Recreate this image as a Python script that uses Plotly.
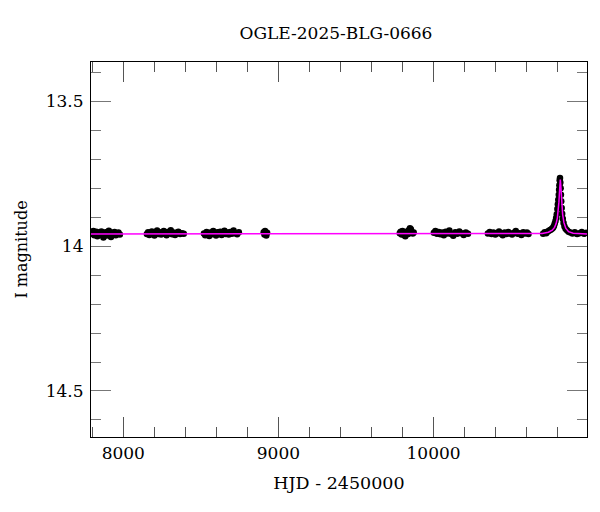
import plotly.graph_objects as go

# Season data (HJD - 2450000, I magnitude)
s1_t = [7795, 7801, 7807, 7813, 7820, 7826, 7833, 7839, 7846, 7852, 7859, 7866, 7872, 7879, 7886, 7893, 7900, 7907, 7914, 7921, 7928, 7936, 7944, 7952, 7960, 7969, 7978]
s1_m = [13.951, 13.957, 13.948, 13.962, 13.955, 13.950, 13.966, 13.958, 13.953, 13.961, 13.949, 13.956, 13.970, 13.959, 13.952, 13.963, 13.955, 13.947, 13.960, 13.968, 13.954, 13.958, 13.951, 13.962, 13.957, 13.953, 13.960]

s2_t = [8152, 8160, 8168, 8176, 8184, 8193, 8201, 8210, 8218, 8227, 8235, 8244, 8252, 8261, 8270, 8279, 8288, 8297, 8306, 8315, 8324, 8334, 8344, 8355, 8366, 8378, 8390]
s2_m = [13.958, 13.952, 13.961, 13.955, 13.949, 13.957, 13.963, 13.953, 13.946, 13.958, 13.952, 13.960, 13.955, 13.948, 13.957, 13.962, 13.951, 13.956, 13.945, 13.959, 13.953, 13.961, 13.954, 13.950, 13.958, 13.955, 13.957]

s3_t = [8520, 8528, 8537, 8545, 8554, 8562, 8571, 8580, 8589, 8598, 8607, 8616, 8625, 8634, 8643, 8652, 8661, 8670, 8680, 8690, 8700, 8711, 8722, 8734, 8745]
s3_m = [13.956, 13.962, 13.951, 13.958, 13.965, 13.953, 13.959, 13.948, 13.957, 13.963, 13.952, 13.958, 13.950, 13.961, 13.955, 13.947, 13.958, 13.953, 13.960, 13.951, 13.957, 13.946, 13.955, 13.959, 13.952]

s4_t = [8905, 8910, 8914, 8918, 8922, 8927]
s4_m = [13.952, 13.960, 13.948, 13.957, 13.963, 13.954]

s5_t = [9782, 9788, 9794, 9800, 9806, 9812, 9818, 9824, 9830, 9836, 9842, 9848, 9854, 9860, 9866, 9872]
s5_m = [13.955, 13.950, 13.960, 13.948, 13.957, 13.962, 13.966, 13.953, 13.949, 13.958, 13.944, 13.938, 13.942, 13.951, 13.956, 13.953]

s6_t = [10002, 10012, 10022, 10033, 10044, 10055, 10066, 10078, 10090, 10102, 10114, 10127, 10140, 10153, 10166, 10180, 10194, 10208, 10222]
s6_m = [13.954, 13.948, 13.957, 13.951, 13.959, 13.953, 13.962, 13.950, 13.956, 13.946, 13.958, 13.964, 13.952, 13.957, 13.949, 13.955, 13.961, 13.953, 13.957]

s7_t = [10350, 10362, 10374, 10386, 10398, 10410, 10422, 10434, 10446, 10458, 10470, 10482, 10494, 10506, 10518, 10530, 10542, 10554, 10566, 10578, 10590, 10602, 10612]
s7_m = [13.956, 13.951, 13.958, 13.953, 13.960, 13.955, 13.949, 13.957, 13.962, 13.953, 13.958, 13.951, 13.956, 13.960, 13.954, 13.948, 13.957, 13.955, 13.961, 13.952, 13.956, 13.953, 13.958]

s8_t = [10706, 10716, 10726, 10736, 10746, 10755, 10763, 10770, 10776, 10781, 10786, 10790, 10794, 10798, 10801, 10804, 10807, 10809, 10811, 10813, 10815, 10817, 10819, 10821, 10823, 10826, 10829, 10833, 10838, 10844, 10851, 10860, 10870, 10882, 10895, 10910, 10925, 10940, 10955, 10970, 10985]
s8_m = [13.957, 13.952, 13.955, 13.949, 13.946, 13.943, 13.940, 13.936, 13.930, 13.922, 13.913, 13.903, 13.890, 13.872, 13.855, 13.840, 13.822, 13.805, 13.790, 13.772, 13.765, 13.780, 13.800, 13.822, 13.845, 13.868, 13.888, 13.905, 13.920, 13.932, 13.940, 13.945, 13.950, 13.953, 13.956, 13.952, 13.958, 13.955, 13.951, 13.957, 13.954]

# Model curve
model_t = [7792, 10600, 10700, 10740, 10765, 10780, 10790, 10798, 10804, 10808, 10811, 10813, 10815, 10817, 10819, 10822, 10826, 10832, 10840, 10852, 10870, 10900, 10989]
model_m = [13.958, 13.958, 13.956, 13.952, 13.945, 13.935, 13.922, 13.902, 13.875, 13.848, 13.818, 13.795, 13.775, 13.770, 13.782, 13.812, 13.852, 13.890, 13.918, 13.938, 13.950, 13.955, 13.958]

x_range = [7792, 10989]
y_range = [14.659, 13.364]
x_title = "HJD - 2450000"
y_title = "I magnitude"
title = "OGLE-2025-BLG-0666"

hjd = s1_t + s2_t + s3_t + s4_t + s5_t + s6_t + s7_t + s8_t
mag = s1_m + s2_m + s3_m + s4_m + s5_m + s6_m + s7_m + s8_m

FONT = "DejaVu Serif"

fig = go.Figure()
fig.add_trace(go.Scatter(
    x=hjd, y=mag, mode="markers",
    marker=dict(color="black", size=6.5, line=dict(width=0)),
    showlegend=False, hoverinfo="skip"))
fig.add_trace(go.Scatter(
    x=model_t, y=model_m, mode="lines",
    line=dict(color="#ff00ff", width=1.5),
    showlegend=False, hoverinfo="skip"))

# page body has an 8px margin: figure is 592x504 so that it fills the 600x512 window
fig.update_layout(
    width=592, height=504,
    margin=dict(l=79, r=12, t=54, b=75),
    paper_bgcolor="white", plot_bgcolor="white",
    font=dict(family=FONT, size=16, color="black"),
    title=dict(text=title, x=0.554, xanchor="center", y=0.950, yanchor="middle",
               font=dict(family=FONT, size=17, color="black")),
)
fig.update_xaxes(
    range=x_range, showgrid=False, zeroline=False,
    showline=True, linecolor="black", linewidth=1.2, mirror="allticks",
    ticks="inside", ticklen=20, tickwidth=1, tickcolor="#555555",
    tickvals=[8000, 9000, 10000], ticktext=["8000", "9000", "10000"],
    tickfont=dict(family=FONT, size=17),
    minor=dict(ticks="inside", ticklen=10, tickcolor="#555555", dtick=200, tick0=8000, showgrid=False),
    title=dict(text=x_title, font=dict(family=FONT, size=17.5), standoff=15),
)
fig.update_yaxes(
    range=y_range, showgrid=False, zeroline=False,
    showline=True, linecolor="black", linewidth=1.2, mirror="allticks",
    ticks="inside", ticklen=20, tickwidth=1, tickcolor="#777777",
    tickvals=[13.5, 14.0, 14.5], ticktext=["13.5", "14", "14.5"],
    tickfont=dict(family=FONT, size=17), ticklabelstandoff=3,
    minor=dict(ticks="inside", ticklen=10, tickcolor="#777777", dtick=0.1, tick0=13.4, showgrid=False),
    title=dict(text=y_title, font=dict(family=FONT, size=16), standoff=14),
)

fig.write_html("out.html")
